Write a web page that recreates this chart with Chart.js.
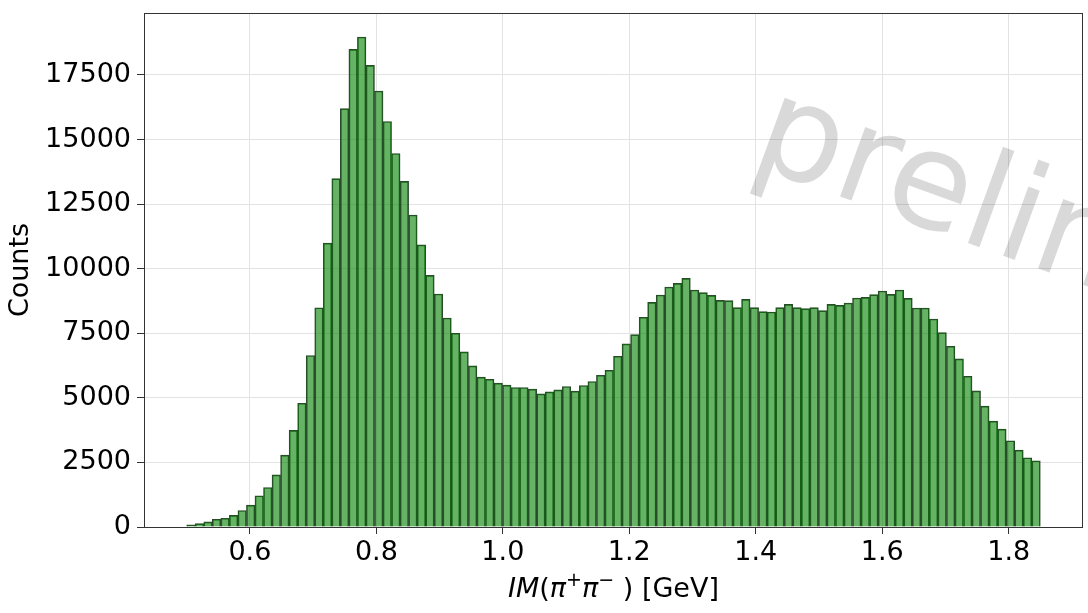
<!DOCTYPE html>
<html>
<head>
<meta charset="utf-8">
<title>IM(pi+ pi-) histogram</title>
<script src="https://cdn.jsdelivr.net/npm/chart.js@4.4.1/dist/chart.umd.min.js"></script>
<style>
  html, body { margin: 0; padding: 0; background: #fff; }
  #wrap { width: 1088px; height: 613px; }
</style>
</head>
<body>
<div id="wrap"><canvas id="histChart" width="1088" height="613"></canvas></div>
<script>
// 100 equal bins from 0.5 to 1.85 GeV, counts
var histMin = 0.5;
var histMax = 1.85;
var counts = [
  80, 130, 200, 300, 340, 450, 640, 850, 1210, 1530,
  2020, 2780, 3740, 4790, 6640, 8490, 10990, 13490, 16200, 18490,
  18970, 17870, 16880, 15700, 14460, 13380, 12080, 10920, 9740, 9020,
  8090, 7500, 6780, 6240, 5800, 5720, 5570, 5490, 5400, 5400,
  5335, 5155, 5232, 5310, 5438, 5258, 5477, 5632, 5876, 6070,
  6611, 7088, 7449, 8119, 8699, 8982, 9292, 9433, 9627, 9176,
  9072, 8969, 8776, 8763, 8492, 8815, 8492, 8338, 8325, 8492,
  8621, 8492, 8454, 8492, 8377, 8621, 8583, 8673, 8866, 8892,
  8995, 9137, 9008, 9176, 8853, 8480, 8480, 8054, 7526, 6998,
  6508, 5838, 5271, 4678, 4098, 3789, 3338, 2977, 2680, 2564
];
var xTicks = [0.6, 0.8, 1.0, 1.2, 1.4, 1.6, 1.8];
var yTicks = [0, 2500, 5000, 7500, 10000, 12500, 15000, 17500];
var xRange = [0.4325, 1.9175];
var yRange = [0, 19900];
var yTitle = 'Counts';
var watermarkText = 'preliminary';

var binWidth = (histMax - histMin) / counts.length;
var points = counts.map(function (v, i) {
  return { x: histMin + (i + 0.5) * binWidth, y: v };
});

Chart.defaults.font.family = "'DejaVu Sans', sans-serif";
Chart.defaults.color = '#000';

// spines, x label with math italics, and the watermark
var decorations = {
  id: 'decorations',
  afterDraw: function (chart) {
    var c = chart.ctx;
    var a = chart.chartArea;
    c.save();

    c.fillStyle = 'rgba(0,0,0,0.15)';
    c.font = "135px 'DejaVu Sans'";
    c.textBaseline = 'alphabetic';
    c.translate(748, 163);
    c.rotate(20 * Math.PI / 180);
    c.fillText(watermarkText, 0, 0);
    c.setTransform(1, 0, 0, 1, 0, 0);

    c.strokeStyle = '#333';
    c.lineWidth = 1;
    c.strokeRect(a.left + 0.5, a.top + 0.5, a.right - a.left - 1, a.bottom - a.top);

    var parts = [
      { t: 'IM', f: "oblique 27px 'DejaVu Sans'", dy: 0 },
      { t: '(', f: "27px 'DejaVu Sans'", dy: 0 },
      { t: '\u03c0', f: "oblique 27px 'DejaVu Sans'", dy: 0 },
      { t: '+', f: "19px 'DejaVu Sans'", dy: -11 },
      { t: '\u03c0', f: "oblique 27px 'DejaVu Sans'", dy: 0 },
      { t: '\u2212', f: "19px 'DejaVu Sans'", dy: -11 },
      { t: ' ) [GeV]', f: "27px 'DejaVu Sans'", dy: 0 }
    ];
    var total = 0;
    parts.forEach(function (p) { c.font = p.f; p.w = c.measureText(p.t).width; total += p.w; });
    var x = (a.left + a.right) / 2 - total / 2;
    c.fillStyle = '#000';
    c.textBaseline = 'alphabetic';
    parts.forEach(function (p) {
      c.font = p.f;
      c.fillText(p.t, x, 597 + p.dy);
      x += p.w;
    });
    c.restore();
  }
};

var ctx = document.getElementById('histChart').getContext('2d');
var histChart = new Chart(ctx, {
  type: 'bar',
  data: {
    datasets: [{
      label: 'IM',
      data: points,
      backgroundColor: 'rgba(0,128,0,0.6)',
      borderColor: '#2b4a2b',
      borderWidth: 1,
      barPercentage: 1.0,
      categoryPercentage: 1.0
    }]
  },
  options: {
    responsive: false,
    animation: false,
    layout: { padding: { left: 0, right: 5, top: 13, bottom: 0 } },
    plugins: { legend: { display: false }, tooltip: { enabled: false } },
    scales: {
      x: {
        type: 'linear',
        offset: false,
        min: xRange[0],
        max: xRange[1],
        afterBuildTicks: function (s) { s.ticks = xTicks.map(function (v) { return { value: v }; }); },
        afterFit: function (s) { s.height = 86; s.paddingLeft = 0; s.paddingRight = 0; },
        grid: { offset: false, color: '#e3e3e3', tickColor: '#333', tickLength: 7 },
        border: { display: false },
        ticks: {
          padding: 3,
          maxRotation: 0,
          font: { size: 27 },
          callback: function (v) { return v.toFixed(1); }
        }
      },
      y: {
        min: yRange[0],
        max: yRange[1],
        afterBuildTicks: function (s) { s.ticks = yTicks.map(function (v) { return { value: v }; }); },
        afterFit: function (s) { s.width = 144; s.paddingTop = 0; s.paddingBottom = 0; },
        grid: { color: '#e3e3e3', tickColor: '#333', tickLength: 7 },
        border: { display: false },
        ticks: {
          padding: 6,
          font: { size: 27 },
          callback: function (v) { return String(v); }
        },
        title: { display: true, text: yTitle, font: { size: 27 }, padding: { top: 5, bottom: 0 } }
      }
    }
  },
  plugins: [decorations]
});
</script>
</body>
</html>
